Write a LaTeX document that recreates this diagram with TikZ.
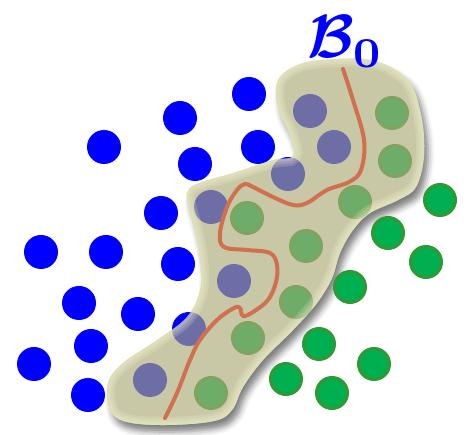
\documentclass[tikz,border=0pt]{standalone}
\usepackage{amsmath}
\usetikzlibrary{shadows.blur}
\definecolor{dotblue}{RGB}{0,0,255}
\definecolor{dotgreen}{RGB}{0,176,80}
\definecolor{ringgreen}{RGB}{46,154,53}
\definecolor{blobcol}{RGB}{170,170,120}
\definecolor{glowcol}{RGB}{255,255,215}
\definecolor{curvecol}{RGB}{208,112,78}
\tikzset{
  bdot/.style={circle,fill=dotblue,minimum size=34pt,inner sep=0pt},
  gdot/.style={circle,fill=dotgreen,draw=ringgreen,line width=3.3pt,minimum size=30.7pt,inner sep=0pt},
  boundary/.style={draw=curvecol,line width=4pt,line cap=round,line join=round},
  biglabel/.style={text=dotblue,anchor=base west,inner sep=0pt,scale=6.1},
}
\newcommand{\blobpts}{(278,80) (300,64) (335,59) (375,61) (408,80) (421,115) (424,155) (416,187)
 (398,200) (370,213) (353,230) (340,253) (332,278) (317,303) (293,330)
 (263,360) (243,387) (232,410) (214,421) (167,425) (127,422) (110,410)
 (108,383) (123,363) (157,340) (187,317) (200,290) (200,260) (194,227)
 (187,200) (189,189) (202,182) (233,173) (273,160) (293,156) (290,135) (278,108)}
\begin{document}
\begin{tikzpicture}[x=1pt,y=-1pt]
\useasboundingbox (0,0) rectangle (467,435);
\fill[white,blur shadow={shadow xshift=4pt,shadow yshift=-7pt,shadow blur radius=6pt,shadow opacity=50}]
  plot[smooth cycle,tension=0.6] coordinates {\blobpts};
\foreach \nm/\x/\y in {b1/249/94,b2/180/118,b3/104/147,b4/258/147,b5/195/164,b6/161/213,
  b7/41/252,b8/106/252,b9/178/264,b10/79/303,b11/138/314,b12/91/346,b13/34/364,b14/88/395,
  b15/310/111,b16/334/147,b17/288/174,b18/211/207,b19/234/281,b20/189/329,b21/150/380}
  {\node[bdot] (\nm) at (\x,\y) {};}
\foreach \nm/\x/\y in {g1/392/113,g2/395/161,g3/355/202,g4/247/218,g5/306/246,g6/296/302,
  g7/248/338,g8/211/393,g9/440/200,g10/388/233,g11/426/262,g12/350/287,g13/319/344,
  g14/374/364,g15/286/379,g16/332/393}
  {\node[gdot] (\nm) at (\x,\y) {};}
\fill[blobcol,fill opacity=0.647] plot[smooth cycle,tension=0.6] coordinates {\blobpts};
\begin{scope}
  \clip plot[smooth cycle,tension=0.6] coordinates {\blobpts};
  \foreach \w in {16,11,6}
    {\draw[glowcol,line width=\w pt,opacity=0.17] plot[smooth cycle,tension=0.6] coordinates {\blobpts};}
\end{scope}
\draw[boundary] plot[smooth,tension=0.6] coordinates {
 (343,69) (353,100) (364,140) (361,170) (349,182) (327,190) (307,203) (293,205)
 (273,197) (253,187) (245,184) (237,190) (227,207) (220,233) (224,247) (247,250)
 (270,253) (277,265) (276,282) (268,300) (253,312) (243,316) (240,308) (234,308)
 (217,320) (200,340) (190,360) (177,393) (165,418)};
\node[biglabel] (lab) at (306,58) {$\boldsymbol{\mathcal{B}_0}$};
\end{tikzpicture}
\end{document}
